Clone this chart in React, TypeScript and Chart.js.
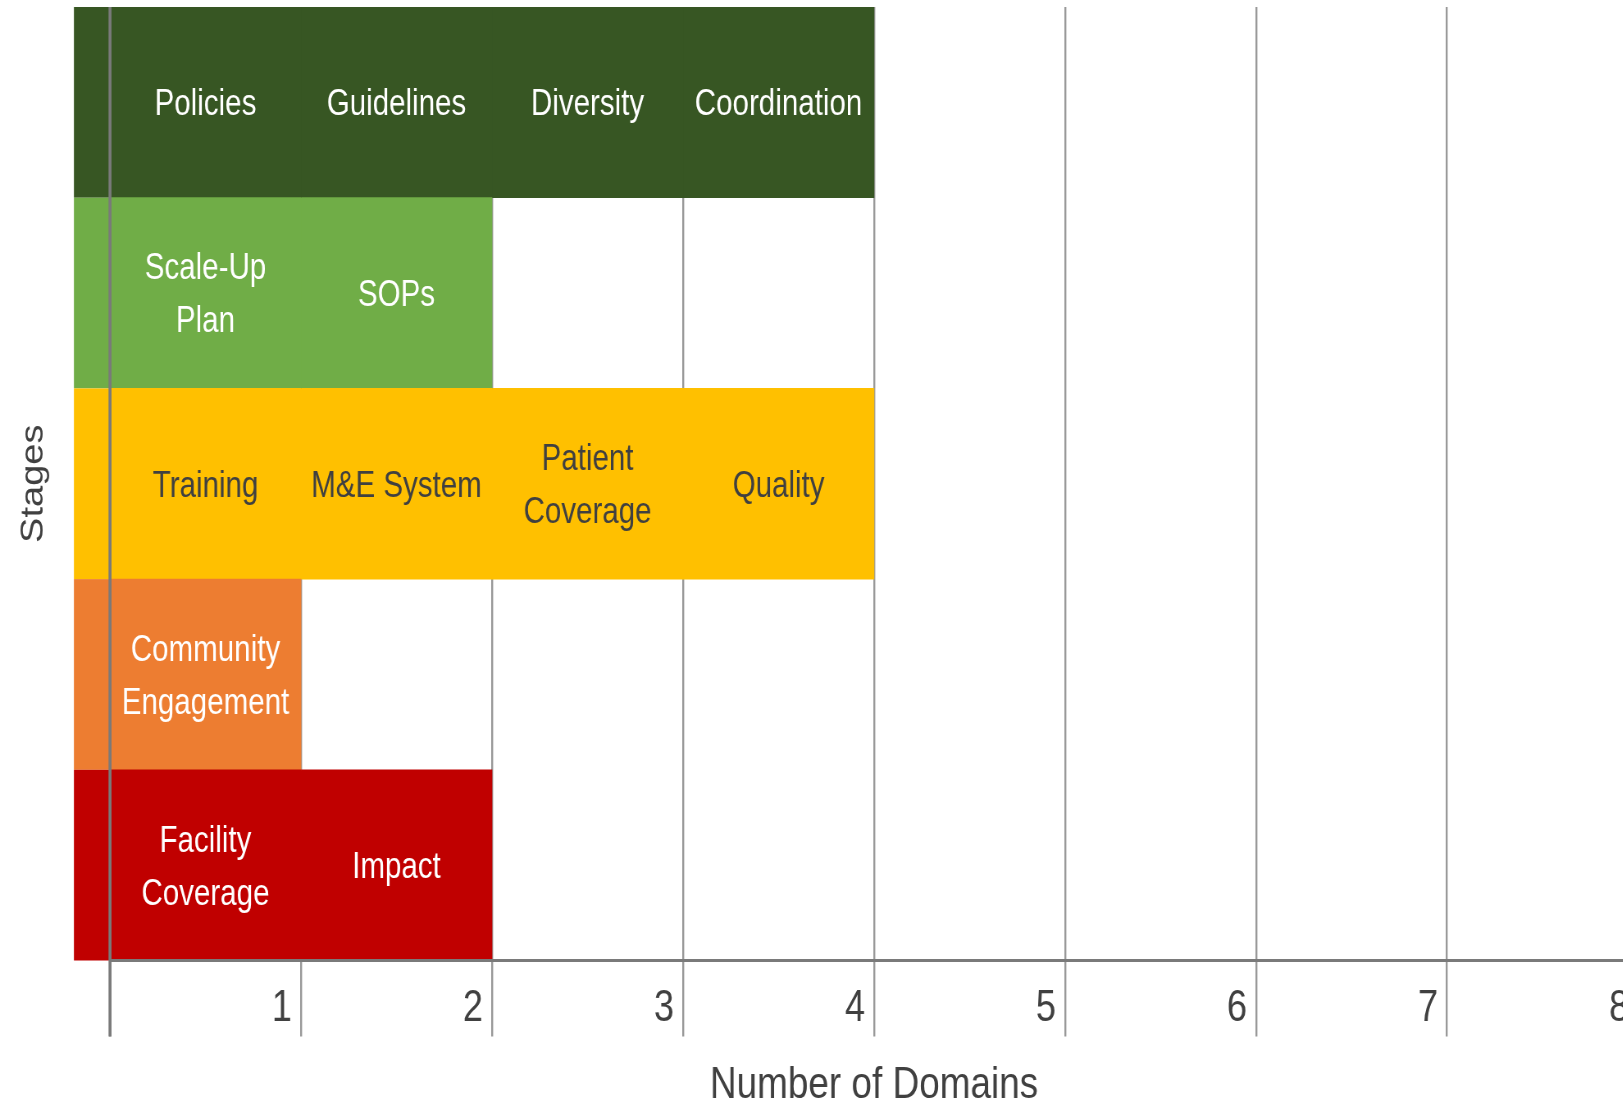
import React, { useEffect, useRef } from "react";
import { Chart, registerables } from "chart.js";

Chart.register(...registerables);

// ---- data ----
const stageLabels = ["Stage A", "Stage B", "Stage C", "Stage D", "Stage E"];
const domainCounts = [4, 2, 4, 1, 2];
const row1Domains: (string | string[])[] = ["Policies", "Guidelines", "Diversity", "Coordination"];
const row2Domains: (string | string[])[] = [["Scale-Up", "Plan"], "SOPs"];
const row3Domains: (string | string[])[] = ["Training", "M&E System", ["Patient", "Coverage"], "Quality"];
const row4Domains: (string | string[])[] = [["Community", "Engagement"]];
const row5Domains: (string | string[])[] = [["Facility", "Coverage"], "Impact"];
const domainNames = [row1Domains, row2Domains, row3Domains, row4Domains, row5Domains];
const rowColors = ["#375623", "#70AD47", "#FFC000", "#ED7D31", "#C00000"];
const labelColors = ["#FFFFFF", "#FFFFFF", "#404040", "#FFFFFF", "#FFFFFF"];
const xTicks = [0, 1, 2, 3, 4, 5, 6, 7, 8];
const xTitle = "Number of Domains";
const yTitle = "Stages";

const FONT = '"Liberation Sans", Arial, sans-serif';
const SQUEEZE = 0.82; // horizontal squeeze of the whole picture
const CANVAS_W = 2010;
const CANVAS_H = 1100;

export default function App() {
  const ref = useRef<HTMLCanvasElement | null>(null);

  useEffect(() => {
    if (!ref.current) return;
    const maxCols = Math.max(...domainCounts);
    const datasets = [] as any[];
    for (let c = 0; c < maxCols; c++) {
      datasets.push({
        label: "col" + c,
        data: domainCounts.map((n) => (c < n ? [c, c + 1] : null)),
        backgroundColor: rowColors,
        borderWidth: 0,
        grouped: false,
        barPercentage: 1,
        categoryPercentage: 1,
      });
    }

    const stripPlugin = {
      id: "strip",
      beforeDatasetsDraw(chart: any) {
        const { ctx, chartArea, scales } = chart;
        const ys = scales.y;
        const half = Math.abs(ys.getPixelForValue(1) - ys.getPixelForValue(0)) / 2;
        ctx.save();
        stageLabels.forEach((_, r) => {
          const yc = ys.getPixelForValue(r);
          ctx.fillStyle = rowColors[r];
          ctx.fillRect(chartArea.left - 44, yc - half, 44, half * 2);
        });
        ctx.restore();
      },
      afterDatasetsDraw(chart: any) {
        const { ctx, chartArea, scales } = chart;
        const xs = scales.x;
        ctx.save();
        ctx.font = "36px " + FONT;
        ctx.textAlign = "center";
        ctx.textBaseline = "middle";
        chart.data.datasets.forEach((ds: any, c: number) => {
          const meta = chart.getDatasetMeta(c);
          meta.data.forEach((bar: any, r: number) => {
            const v = ds.data[r];
            if (!v) return;
            const name = domainNames[r][c];
            const lines = Array.isArray(name) ? name : [name];
            const cx = (xs.getPixelForValue(v[0]) + xs.getPixelForValue(v[1])) / 2;
            const cy = bar.y + 3;
            const lh = 53;
            ctx.fillStyle = labelColors[r];
            lines.forEach((t: string, i: number) => {
              ctx.fillText(t, cx, cy + (i - (lines.length - 1) / 2) * lh);
            });
          });
        });
        const x0 = xs.getPixelForValue(0);
        ctx.strokeStyle = "#7a7a7a";
        ctx.lineWidth = 3.6;
        ctx.beginPath();
        ctx.moveTo(x0, chartArea.top);
        ctx.lineTo(x0, chartArea.bottom + 76);
        ctx.stroke();
        ctx.lineWidth = 3;
        ctx.beginPath();
        ctx.moveTo(x0, chartArea.bottom);
        ctx.lineTo(chart.width, chartArea.bottom);
        ctx.stroke();
        ctx.restore();
      },
    };

    const chart = new Chart(ref.current, {
      type: "bar",
      data: { labels: stageLabels, datasets },
      options: {
        indexAxis: "y",
        animation: false,
        responsive: false,
        layout: { padding: { top: 7, right: 12.4, left: 0, bottom: 0 } },
        plugins: { legend: { display: false }, tooltip: { enabled: false } },
        scales: {
          x: {
            type: "linear",
            min: 0,
            max: 8,
            afterBuildTicks(scale: any) {
              scale.ticks = xTicks.map((v) => ({ value: v }));
            },
            afterFit(scale: any) {
              scale.height = 139.5;
            },
            grid: {
              color: "#999999",
              lineWidth: 2.4,
              tickLength: 76,
              tickColor: "#999999",
            },
            border: { display: false },
            ticks: {
              align: "end",
              labelOffset: -11,
              padding: -54,
              color: "#404040",
              font: { family: FONT, size: 44 },
              callback: (v: any) => (v === 0 ? "" : String(v)),
            },
            title: {
              display: true,
              text: xTitle,
              color: "#404040",
              font: { family: FONT, size: 45, lineHeight: 0.62 },
              padding: { top: 0, bottom: 0 },
            },
          },
          y: {
            type: "category",
            afterFit(scale: any) {
              scale.width = 134.15;
            },
            grid: { display: false },
            border: { display: false },
            ticks: { display: false },
            title: {
              display: true,
              text: yTitle,
              color: "#404040",
              font: { family: FONT, size: 38, lineHeight: 1.2 },
              padding: { top: 19, bottom: 0 },
            },
          },
        },
      } as any,
      plugins: [stripPlugin],
    });
    return () => chart.destroy();
  }, []);

  return (
    <div style={{ position: "fixed", left: 0, top: 0, width: "100vw", height: "100vh", overflow: "hidden", background: "#fff" }}>
      <canvas
        ref={ref}
        width={CANVAS_W}
        height={CANVAS_H}
        style={{ display: "block", transform: `scaleX(${SQUEEZE})`, transformOrigin: "0 0" }}
      />
    </div>
  );
}
